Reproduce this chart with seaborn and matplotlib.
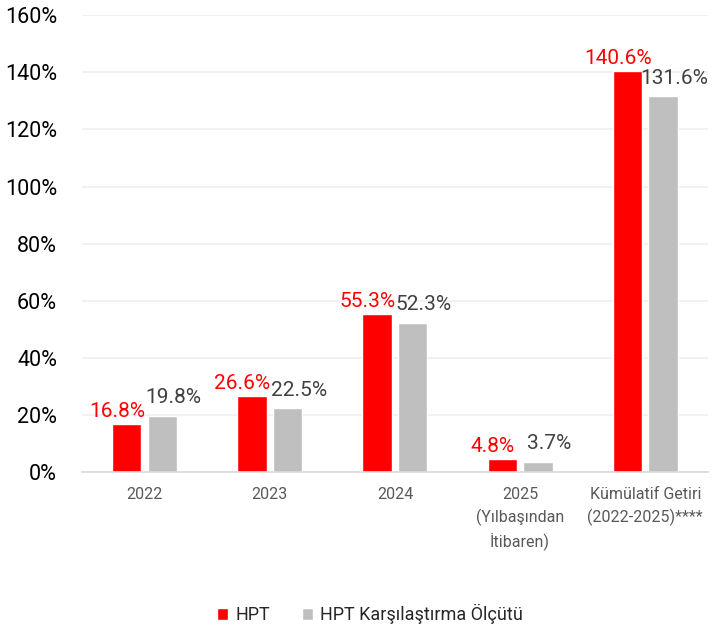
import matplotlib
matplotlib.use("Agg")
import matplotlib.pyplot as plt
import seaborn as sns
import pandas as pd
from matplotlib.patches import Patch
from matplotlib.ticker import FuncFormatter

categories = ["2022", "2023", "2024", "2025\n(Yılbaşından\nİtibaren)",
              "Kümülatif Getiri\n(2022-2025)****"]
hpt = [16.8, 26.6, 55.3, 4.8, 140.6]
benchmark = [19.8, 22.5, 52.3, 3.7, 131.6]
series_names = ["HPT", "HPT Karşılaştırma Ölçütü"]
colors = ["#ff0000", "#bfbfbf"]
label_colors = ["#ff0000", "#404040"]

df = pd.DataFrame({
    "Kategori": categories * 2,
    "Getiri": hpt + benchmark,
    "Seri": [series_names[0]] * len(hpt) + [series_names[1]] * len(benchmark),
})

sns.set_style("white")
plt.rcParams["font.family"] = ["Roboto", "DejaVu Sans"]

fig, ax = plt.subplots(figsize=(7.26, 6.33), dpi=100)
fig.subplots_adjust(left=0.113, right=0.975, top=0.976, bottom=0.254)

sns.barplot(data=df, x="Kategori", y="Getiri", hue="Seri", palette=colors,
            width=0.57, gap=0.18, ax=ax, legend=False, saturation=1)

# data labels
offsets = [(-7, 2), (8, 6)]
for i, cont in enumerate(ax.containers):
    vals = hpt if i == 0 else benchmark
    for bar, v in zip(cont, vals):
        ax.annotate(f"{v:.1f}%", (bar.get_x() + bar.get_width() / 2, bar.get_height()),
                    xytext=offsets[i], textcoords="offset points",
                    ha="center", va="bottom", fontsize=15, color=label_colors[i])

ax.set_ylim(0, 160)
ax.set_xlim(-0.5, 4.5)
ax.set_yticks(range(0, 161, 20))
ax.yaxis.set_major_formatter(FuncFormatter(lambda v, p: f"{v:.0f}%"))
ax.grid(axis="y", color="#efefef", linewidth=1.2)
ax.set_axisbelow(True)
for s in ["top", "right", "left"]:
    ax.spines[s].set_visible(False)
ax.spines["bottom"].set_color("#d9d9d9")
ax.spines["bottom"].set_linewidth(1.2)
ax.tick_params(axis="y", labelsize=15.5, labelcolor="#000000", length=0, pad=18)
ax.tick_params(axis="x", labelsize=11.5, labelcolor="#595959", length=0, pad=11)
for t in ax.get_xticklabels():
    t.set_linespacing(1.45)
ax.set_xlabel("")
ax.set_ylabel("")

handles = [Patch(facecolor=c, label=n) for c, n in zip(colors, series_names)]
fig.legend(handles=handles, loc="lower center", bbox_to_anchor=(0.51, -0.012), ncol=2,
           frameon=False, fontsize=13, handlelength=0.6, handleheight=0.6,
           handletextpad=0.4, columnspacing=1.8)

fig.savefig("out.png", dpi=100)
